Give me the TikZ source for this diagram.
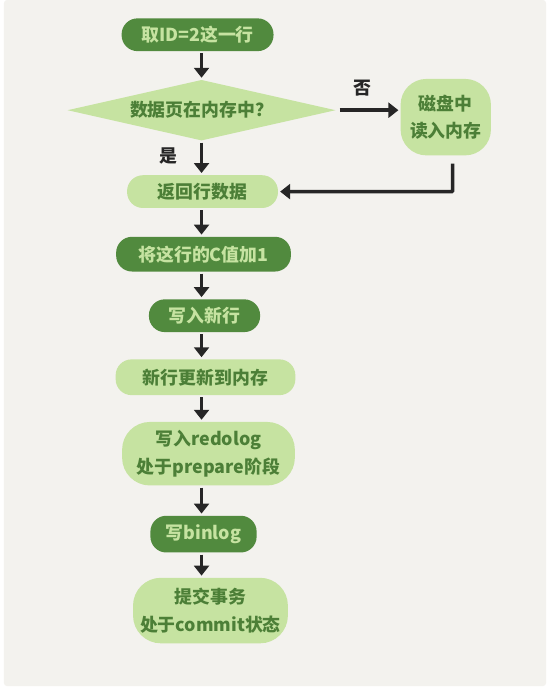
\documentclass[tikz,border=0pt]{standalone}
\usepackage{fontspec}
\setmainfont{Noto Sans CJK SC}
\usetikzlibrary{shapes.geometric,arrows.meta,positioning,calc}
\definecolor{bgpaper}{HTML}{F3F2EE}
\definecolor{darkleaf}{HTML}{518A3E}
\definecolor{lightleaf}{HTML}{C6E3A1}
\definecolor{inkgreen}{HTML}{4C7F37}
\definecolor{penink}{HTML}{262626}

\begin{document}
\begin{tikzpicture}[x=1pt,y=-1pt,font=\fontsize{18}{28}\selectfont\bfseries,
  dark/.style={fill=darkleaf,text=lightleaf,rounded corners=16pt,inner sep=0pt,align=center},
  light/.style={fill=lightleaf,text=inkgreen,rounded corners=16pt,inner sep=0pt,align=center},
  flow/.style={-{Triangle[length=10pt,width=15pt]},line width=3.5pt,draw=penink,shorten <=2pt,shorten >=2pt},
]
  % paper
  \fill[white] (0,0) rectangle (554,688);
  \fill[bgpaper,rounded corners=3pt] (4,-5) rectangle (550,686);

  \node[dark,minimum width=153pt,minimum height=33pt] (fetch) at (199,30) {取ID=2这一行};
  \node[diamond,fill=lightleaf,text=inkgreen,inner sep=0pt,aspect=4.4,
        minimum width=270pt,minimum height=61pt] (inmem) at (203,106) {数据页在内存中？};
  \node[light,rounded corners=26pt,minimum width=91pt,minimum height=77pt] (disk) at (449,113) {磁盘中\\读入内存};
  \node[light,minimum width=152pt,minimum height=33pt] (retrow) at (204,188) {返回行数据};
  \node[dark,minimum width=176pt,minimum height=35pt] (addc) at (205,251) {将这行的C值加1};
  \node[dark,minimum width=112pt,minimum height=33pt] (newrow) at (206,313) {写入新行};
  \node[light,minimum width=181pt,minimum height=36pt] (tomem) at (207,375) {新行更新到内存};
  \node[light,rounded corners=28pt,minimum width=174pt,minimum height=64pt] (redo) at (210,452) {写入redolog\\处于prepare阶段};
  \node[dark,minimum width=107pt,minimum height=37pt] (binlog) at (205,533) {写binlog};
  \node[light,rounded corners=28pt,minimum width=156pt,minimum height=66pt] (commit) at (212,610) {提交事务\\处于commit状态};

  % labels on the branch
  \node[text=penink] (nolbl) at (365,84) {否};
  \node[text=penink] (yeslbl) at (170,152) {是};

  \foreach \a/\b in {fetch/inmem,inmem/retrow,retrow/addc,addc/newrow,newrow/tomem,tomem/redo,redo/binlog,binlog/commit}
    \draw[flow] (\a.south -| 203,0) -- (\b.north -| 203,0);

  \draw[flow,shorten <=4pt] (inmem.east) -- (inmem.east -| disk.west);
  \coordinate (diskout) at ($(disk.south)+(7,8)$);
  \draw[flow,shorten <=0pt,rounded corners=1pt] (diskout) |- (retrow.east);
\end{tikzpicture}
\end{document}
